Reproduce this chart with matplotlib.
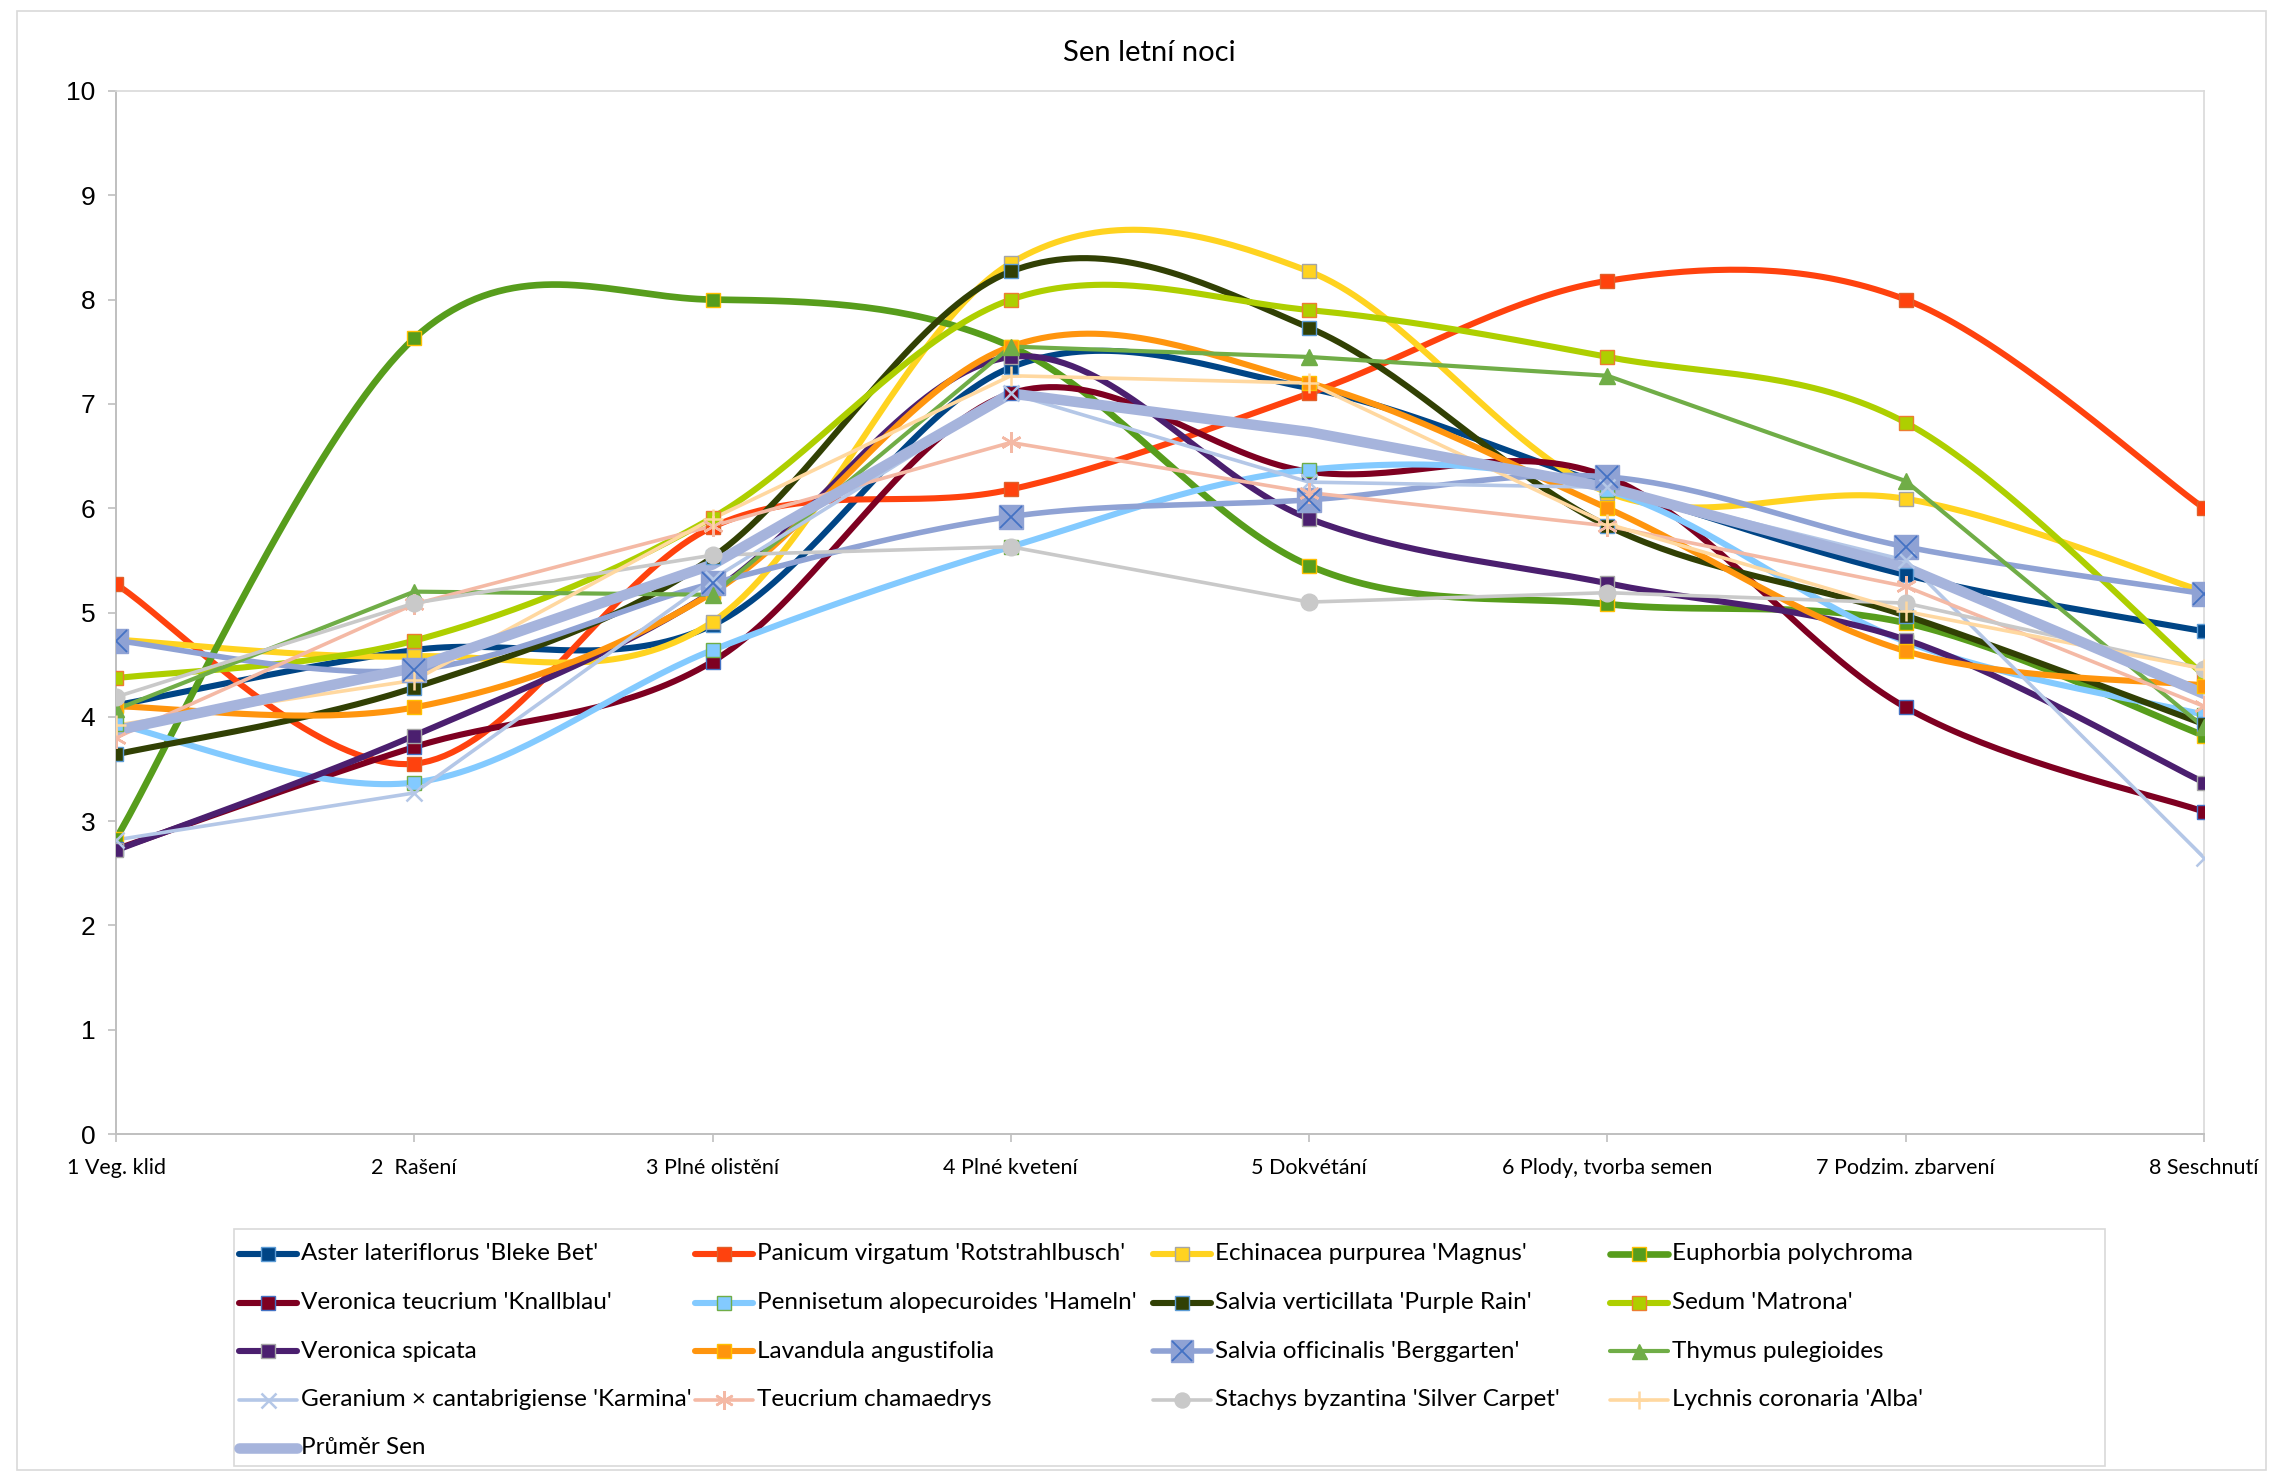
import numpy as np
import matplotlib
matplotlib.use("Agg")
import matplotlib.pyplot as plt
from matplotlib.lines import Line2D

categories = ["1 Veg. klid", "2  Rašení", "3 Plné olistění", "4 Plné kvetení",
              "5 Dokvétání", "6 Plody, tvorba semen", "7 Podzim. zbarvení", "8 Seschnutí"]

aster      = [4.11, 4.64, 4.88, 7.35, 7.15, 6.22, 5.36, 4.82]
panicum    = [5.27, 3.55, 5.82, 6.18, 7.10, 8.18, 8.00, 6.00]
echinacea  = [4.74, 4.58, 4.91, 8.35, 8.27, 6.15, 6.09, 5.20]
euphorbia  = [2.83, 7.63, 8.00, 7.55, 5.45, 5.08, 4.90, 3.82]
ver_teuc   = [2.73, 3.71, 4.53, 7.10, 6.35, 6.30, 4.09, 3.09]
pennisetum = [3.93, 3.37, 4.64, 5.63, 6.37, 6.17, 4.72, 4.02]
salvia_ver = [3.64, 4.28, 5.53, 8.27, 7.73, 5.83, 4.97, 3.93]
sedum      = [4.37, 4.73, 5.91, 8.00, 7.90, 7.45, 6.82, 4.40]
ver_spic   = [2.72, 3.82, 5.20, 7.45, 5.90, 5.28, 4.74, 3.37]
lavandula  = [4.10, 4.09, 5.19, 7.55, 7.20, 6.00, 4.63, 4.30]
salvia_off = [4.73, 4.45, 5.28, 5.92, 6.08, 6.30, 5.63, 5.18]
thymus     = [4.07, 5.20, 5.17, 7.55, 7.45, 7.27, 6.26, 3.90]
geranium   = [2.82, 3.27, 5.32, 7.10, 6.25, 6.20, 5.50, 2.65]
teucrium   = [3.80, 5.08, 5.83, 6.63, 6.15, 5.83, 5.25, 4.10]
stachys    = [4.19, 5.09, 5.55, 5.63, 5.10, 5.19, 5.09, 4.46]
lychnis    = [3.92, 4.35, 5.90, 7.27, 7.20, 5.85, 5.01, 4.46]
prumer     = [3.87, 4.47, 5.46, 7.10, 6.73, 6.20, 5.43, 4.22]

series = [
    # name, data, color, lw, smooth, marker, ms, mfc, mec
    ("Aster lateriflorus 'Bleke Bet'", aster, "#004586", 4.4, True, "s", 10.5, "#004586", "#5B9BD5"),
    ("Panicum virgatum 'Rotstrahlbusch'", panicum, "#FF420E", 4.4, True, "s", 10.5, "#FF420E", "#E0602A"),
    ("Echinacea purpurea 'Magnus'", echinacea, "#FFD320", 4.4, True, "s", 10.5, "#FFD320", "#A5A5A5"),
    ("Euphorbia polychroma", euphorbia, "#579D1C", 4.8, True, "s", 10.5, "#579D1C", "#FFC000"),
    ("Veronica teucrium 'Knallblau'", ver_teuc, "#7E0021", 4.4, True, "s", 10.5, "#7E0021", "#4472C4"),
    ("Pennisetum alopecuroides 'Hameln'", pennisetum, "#83CAFF", 4.4, True, "s", 10.5, "#83CAFF", "#70AD47"),
    ("Salvia verticillata 'Purple Rain'", salvia_ver, "#314004", 4.4, True, "s", 10.5, "#314004", "#5B9BD5"),
    ("Sedum 'Matrona'", sedum, "#AECF00", 4.4, True, "s", 10.5, "#AECF00", "#ED7D31"),
    ("Veronica spicata", ver_spic, "#4B1F6F", 4.4, True, "s", 10.5, "#4B1F6F", "#A5A5A5"),
    ("Lavandula angustifolia", lavandula, "#FF950E", 4.4, True, "s", 10.5, "#FF950E", "#FFC000"),
    ("Salvia officinalis 'Berggarten'", salvia_off, "#8FA2D4", 4.0, True, "s", 17, "#8FA2D4", "#8FA2D4"),
    ("Thymus pulegioides", thymus, "#70AD47", 3.0, False, "^", 12, "#70AD47", "#70AD47"),
    ("Geranium × cantabrigiense 'Karmina'", geranium, "#B4C7E7", 2.6, False, "x", 12, "#B4C7E7", "#B4C7E7"),
    ("Teucrium chamaedrys", teucrium, "#F4B9A5", 2.6, False, (6, 2, 0), 15, "#F4B9A5", "#F4B9A5"),
    ("Stachys byzantina 'Silver Carpet'", stachys, "#C9C9C9", 2.6, False, "o", 12, "#C9C9C9", "#C9C9C9"),
    ("Lychnis coronaria 'Alba'", lychnis, "#FFD8A0", 2.6, False, "+", 15, "#FFD8A0", "#FFD8A0"),
    ("Průměr Sen", prumer, "#A6B4DC", 7.6, False, None, 0, "#A6B4DC", "#A6B4DC"),
]


def smooth_curve(xs, ys, n=40):
    pts = np.column_stack([xs, ys]).astype(float)
    N = len(pts)
    out = []
    t = np.linspace(0, 1, n)[:, None]
    for i in range(N - 1):
        p0 = pts[i - 1] if i > 0 else pts[i]
        p1 = pts[i]
        p2 = pts[i + 1]
        p3 = pts[i + 2] if i + 2 < N else pts[i + 1]
        c1 = p1 + (p2 - p0) / 6.0
        c2 = p2 - (p3 - p1) / 6.0
        seg = ((1 - t) ** 3) * p1 + 3 * ((1 - t) ** 2) * t * c1 + 3 * (1 - t) * t ** 2 * c2 + t ** 3 * p2
        out.append(seg if i == 0 else seg[1:])
    out = np.vstack(out)
    return out[:, 0], out[:, 1]


W, H = 2295, 1472
fig = plt.figure(figsize=(W / 100, H / 100), dpi=100)
fig.patch.set_facecolor("white")


def fx(px):
    return px / W


def fy(py):
    return 1 - py / H


# outer chart border
fig.add_artist(plt.Rectangle((fx(17), fy(1470)), (2266 - 17) / W, (1470 - 11) / H, transform=fig.transFigure,
                             fill=False, edgecolor="#D9D9D9", linewidth=1.2))

ax = fig.add_axes([fx(116), fy(1134), (2204 - 116) / W, (1134 - 91) / H])
x = np.arange(len(categories))


def mew_for(marker):
    return 1.0 if marker in ("s", "^", "o") else 1.8


for name, data, color, lw, smooth, marker, ms, mfc, mec in series:
    if smooth:
        sx, sy = smooth_curve(x, data)
    else:
        sx, sy = x, np.array(data)
    ax.plot(sx, sy, color=color, lw=lw, solid_capstyle="round", solid_joinstyle="round", zorder=2)
    if marker is not None:
        ax.plot(x, data, ls="none", marker=marker, ms=ms, mfc=mfc, mec=mec, mew=mew_for(marker), zorder=3)
    if name.startswith("Salvia officinalis"):
        ax.plot(x, data, ls="none", marker="x", ms=ms * 0.95, mec="#4472C4", mew=1.3, zorder=4)

ax.set_xlim(0, 7)
ax.set_ylim(0, 10)
ax.set_yticks(range(0, 11))
ax.set_xticks(x)
ax.set_xticklabels(categories, fontsize=15.5, family="Lato")
for lbl in ax.get_yticklabels():
    lbl.set_family("Liberation Sans")
    lbl.set_fontsize(19)
ax.tick_params(axis="y", length=6, width=1.2, color="#BFBFBF", pad=9)
ax.tick_params(axis="x", length=6, width=1.2, color="#BFBFBF", pad=11)
for side in ("top", "right"):
    ax.spines[side].set_color("#D9D9D9")
    ax.spines[side].set_linewidth(1.2)
for side in ("left", "bottom"):
    ax.spines[side].set_color("#BFBFBF")
    ax.spines[side].set_linewidth(1.4)

fig.text(fx(1149), fy(53), "Sen letní noci", ha="center", va="center", fontsize=21, family="Lato")

# legend drawn as a grid, row-major, 4 columns
fig.add_artist(plt.Rectangle((fx(234), fy(1466)), (2105 - 234) / W, (1466 - 1229) / H,
                             transform=fig.transFigure, fill=False, edgecolor="#D9D9D9", linewidth=1.2))
col_x = [239, 695, 1153, 1610]
row_y = [1254, 1302.5, 1351, 1399.5, 1448]
for i, (name, data, color, lw, smooth, marker, ms, mfc, mec) in enumerate(series):
    r, c = divmod(i, 4)
    x0 = col_x[c]
    y0 = row_y[r]
    fig.add_artist(Line2D([fx(x0), fx(x0 + 58)], [fy(y0), fy(y0)], transform=fig.transFigure,
                          color=color, lw=lw, solid_capstyle="round"))
    if marker is not None:
        fig.add_artist(Line2D([fx(x0 + 29)], [fy(y0)], transform=fig.transFigure, ls="none",
                              marker=marker, ms=ms * 0.9, mfc=mfc, mec=mec, mew=mew_for(marker)))
    if name.startswith("Salvia officinalis"):
        fig.add_artist(Line2D([fx(x0 + 29)], [fy(y0)], transform=fig.transFigure, ls="none",
                              marker="x", ms=ms * 0.85, mec="#4472C4", mew=1.3))
    fig.text(fx(x0 + 62), fy(y0), name, ha="left", va="center", fontsize=17.5, family="Lato")

fig.savefig("out.png", dpi=100, facecolor="white")
